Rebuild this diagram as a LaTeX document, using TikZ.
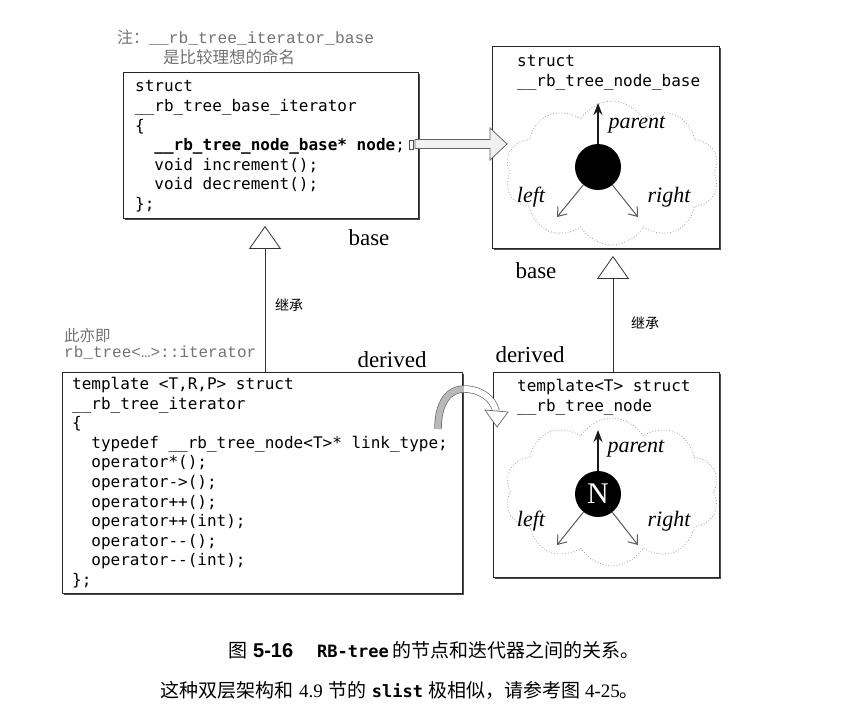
\documentclass[tikz,border=0pt]{standalone}
\usepackage{fontspec}
\setmainfont{Liberation Serif}
\newfontfamily\codefont{DejaVu Sans Mono}
\newfontfamily\cjkfont{Noto Sans CJK SC}
\newfontfamily\notefont{Liberation Mono}
\newfontfamily\capfont{Liberation Sans}
\usetikzlibrary{arrows.meta,shapes.symbols,shadows}
\definecolor{notegray}{gray}{0.45}
\tikzset{
  box/.style={draw=black!85, line width=0.9pt, fill=white, inner sep=0pt, anchor=north west,
    drop shadow={shadow xshift=1.8pt, shadow yshift=-1.8pt, fill=black!70, opacity=1}},
  code/.style={font=\codefont\fontsize{16}{19.6}\selectfont, align=left, inner sep=0pt,
    anchor=north west, execute at begin node={\rule{0pt}{13pt}}},
  lbl/.style={font=\fontsize{23}{23}\selectfont, inner sep=0pt},
  ital/.style={font=\itshape\fontsize{22}{22}\selectfont, inner sep=0pt},
  cjk/.style={font=\cjkfont\fontsize{14}{14}\selectfont, inner sep=0pt},
  cloudshape/.style={cloud, cloud puffs=10, cloud puff arc=120, cloud ignores aspect,
    draw=gray!75, dotted, line width=0.8pt},
  ball/.style={circle, fill=black, minimum size=46pt, inner sep=0pt},
  parentarrow/.style={draw=black!90, line width=1.2pt, -{Stealth[length=12pt, width=9pt]}},
  childarrow/.style={draw=black!65, line width=1pt, -{Straight Barb[length=8pt, width=12pt]}},
  inherit/.style={draw=black!80, line width=0.8pt, shorten >=7pt,
    -{Triangle[open, length=23pt, width=32pt, line width=0.8pt]}},
  blockarrow/.style={fill=gray!12, draw=black!60, line width=0.8pt, line join=miter},
  band/.style={draw=black!60, line width=0.7pt, double distance=6pt},
}
\newcommand{\cjkcap}{\cjkfont\fontsize{19}{19}\selectfont}
\begin{document}
\begin{tikzpicture}[x=1pt,y=-1pt]
\useasboundingbox (0,0) rectangle (845,713);
\fill[white] (0,0) rectangle (845,713);

% boxes
\node[box, minimum width=295pt, minimum height=146pt] (tl) at (123,72) {};
\node[box, minimum width=227pt, minimum height=202pt] (tr) at (492,46) {};
\node[box, minimum width=400pt, minimum height=221pt] (bl) at (62,372) {};
\node[box, minimum width=226pt, minimum height=205pt] (br) at (493,372) {};

% code texts
\node[code] (tlcode) at (135,80.5) {struct\\
\_\_rb\_tree\_base\_iterator\\
\{\\
\phantom{xx}{\bfseries \_\_rb\_tree\_node\_base* node};\\
\phantom{xx}void increment();\\
\phantom{xx}void decrement();\\
\};};
\node[code] (blcode) at (72,377) {template <T,R,P> struct\\
\_\_rb\_tree\_iterator\\
\{\\
\phantom{xx}typedef \_\_rb\_tree\_node<T>* link\_type;\\
\phantom{xx}operator*();\\
\phantom{xx}operator->();\\
\phantom{xx}operator++();\\
\phantom{xx}operator++(int);\\
\phantom{xx}operator-{}-();\\
\phantom{xx}operator-{}-(int);\\
\};};
\node[code] (trcode) at (517,55.5) {struct\\ \_\_rb\_tree\_node\_base};
\node[code] (brcode) at (517,379) {template<T> struct\\ \_\_rb\_tree\_node};

% notes
\node[anchor=base west, inner sep=0pt, text=notegray] (note1) at (117,43)
  {{\cjkfont\fontsize{16}{16}\selectfont 注：}{\notefont\fontsize{16.3}{16}\selectfont \_\_rb\_tree\_iterator\_base}};
\node[anchor=base west, inner sep=0pt, text=notegray, font=\cjkfont\fontsize{16.5}{16}\selectfont] (note2) at (163,63) {是比较理想的命名};
\node[anchor=base west, inner sep=0pt, text=notegray, font=\cjkfont\fontsize{15.5}{15}\selectfont] (note3) at (64,341) {此亦即};
\node[anchor=base west, inner sep=0pt, text=notegray, font=\notefont\fontsize{16}{16}\selectfont] (note4) at (64,357) {rb\_tree<…>::iterator};

% top-right cloud node
\node[cloudshape, minimum width=214pt, minimum height=144pt] (c1) at (612,173) {};
\node[ball] (n1) at (598,167) {};
\coordinate (p1) at (598,103);
\coordinate (l1) at (557,217);
\coordinate (r1) at (638,217);
\draw[parentarrow] (n1) -- (p1);
\draw[childarrow] (n1) -- (l1);
\draw[childarrow] (n1) -- (r1);
\node[ital] (par1) at (637,125) {parent};
\node[ital] (left1) at (531,197) {left};
\node[ital] (right1) at (669,197) {right};

% bottom-right cloud node
\node[cloudshape, minimum width=214pt, minimum height=148pt] (c2) at (612,492) {};
\node[ball, text=white, font=\fontsize{30}{30}\selectfont] (n2) at (598,494) {N};
\coordinate (p2) at (598,430);
\coordinate (l2) at (557,545);
\coordinate (r2) at (638,545);
\draw[parentarrow] (n2) -- (p2);
\draw[childarrow] (n2) -- (l2);
\draw[childarrow] (n2) -- (r2);
\node[ital] (par2) at (636,449) {parent};
\node[ital] (left2) at (531,521) {left};
\node[ital] (right2) at (669,521) {right};

% inheritance
\draw[inherit] ([xshift=203pt]bl.north west) -- ([xshift=142pt]tl.south west);
\draw[inherit] ([xshift=120pt]br.north west) -- ([xshift=121pt]tr.south west);
\node[cjk] (inh1) at (289,305) {继承};
\node[cjk] (inh2) at (645,323) {继承};

\node[lbl] (base1) at (369,238) {base};
\node[lbl] (base2) at (536,271) {base};
\node[lbl] (der1) at (392,360) {derived};
\node[lbl] (der2) at (530,355) {derived};

% block arrow from node pointer
\draw[black!70, line width=0.7pt] (409,140) rectangle (413,149);
\draw[blockarrow] (415,139.5) -- (490,139.5) -- (490,128) -- (507,144) -- (490,160) -- (490,148.5) -- (415,148.5) -- cycle;

% curved arrow
\draw[band, double=gray!55] (438,429) .. controls (438,402) and (449,389) .. (464,389);
\draw[band, double=white] (464,389) .. controls (480,389) and (493,398) .. (496,411);
\draw[fill=white, draw=black!60, line width=0.7pt] (485,410) -- (508,412) -- (497,427) -- cycle;

% caption
\node[anchor=base west, inner sep=0pt] (cap1) at (228,657)
  {{\cjkcap 图}\hspace{6pt}{\capfont\bfseries\fontsize{20}{20}\selectfont 5-16}\hspace{24pt}{\codefont\bfseries\fontsize{17}{17}\selectfont RB-tree}\hspace{4pt}{\cjkcap 的节点和迭代器之间的关系。}};
\node[anchor=base west, inner sep=0pt] (cap2) at (160,697)
  {{\cjkcap 这种双层架构和}\hspace{6pt}{\fontsize{19}{19}\selectfont 4.9}\hspace{6pt}{\cjkcap 节的}\hspace{5pt}{\codefont\bfseries\fontsize{17}{17}\selectfont slist}\hspace{5pt}{\cjkcap 极相似，请参考图}\hspace{5pt}{\fontsize{19}{19}\selectfont 4-25}{\cjkcap 。}};
\end{tikzpicture}
\end{document}
